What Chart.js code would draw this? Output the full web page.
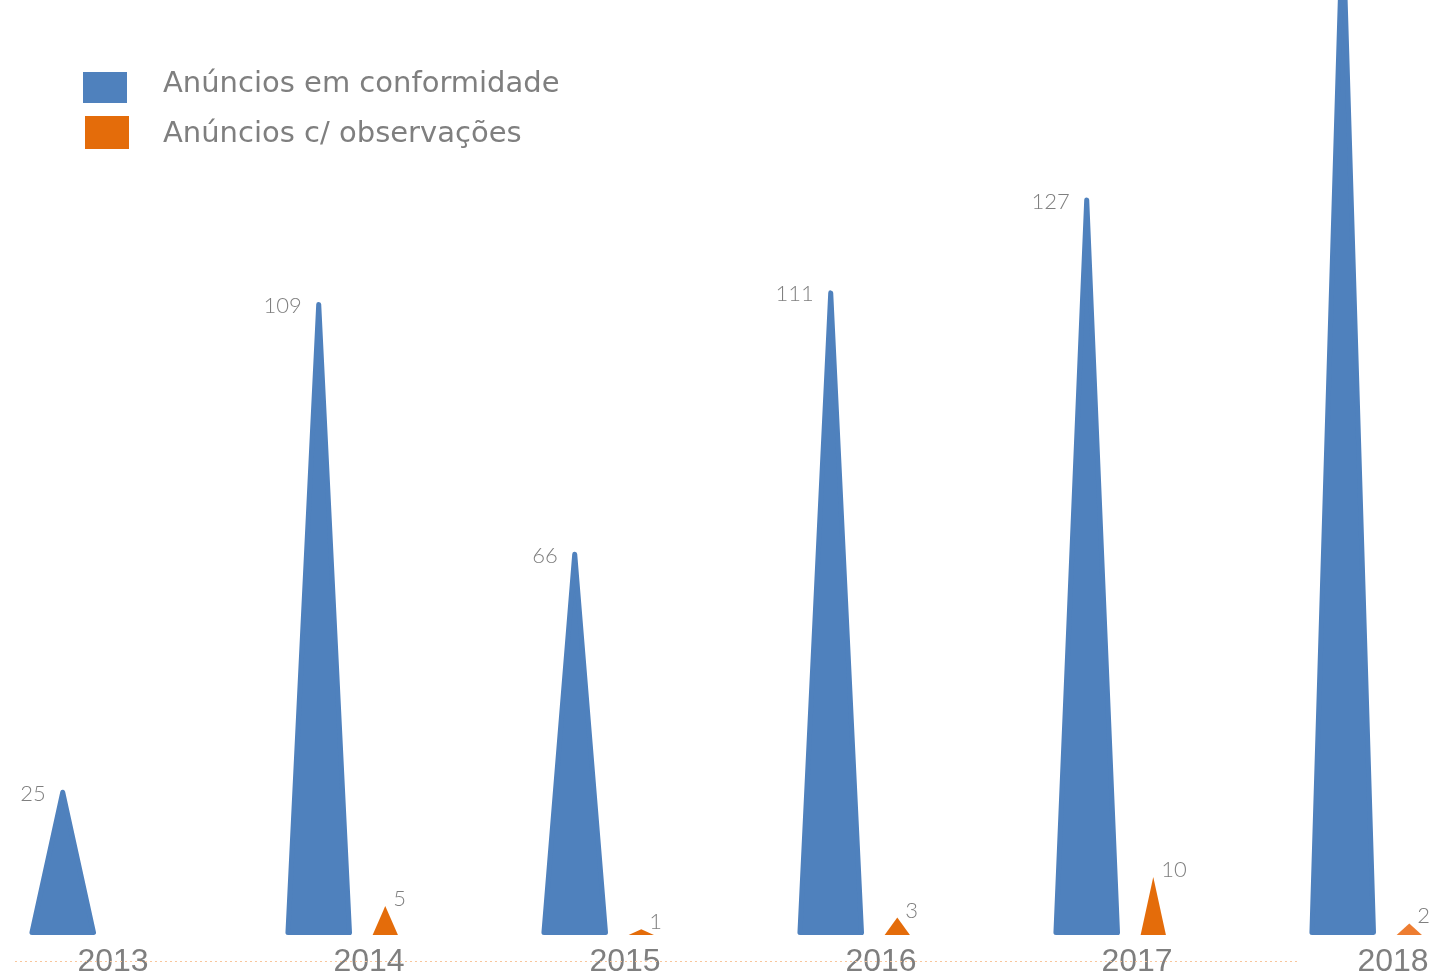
<!DOCTYPE html>
<html lang="pt">
<head>
<meta charset="utf-8">
<title>Anúncios 2013–2018</title>
<script src="https://cdn.jsdelivr.net/npm/chart.js@4.4.1/dist/chart.umd.min.js"></script>
<style>
  html, body { margin: 0; padding: 0; background: #ffffff; overflow: hidden; }
  #wrap { position: relative; width: 1448px; height: 977px; }
</style>
</head>
<body>
<div id="wrap"><canvas id="chart"></canvas></div>
<script>
// Categories and series
const anos = ['2013', '2014', '2015', '2016', '2017', '2018'];
const emConformidade = [25, 109, 66, 111, 127, 175];
const comObservacoes = [null, 5, 1, 3, 10, 2];
const nomesSeries = ['Anúncios em conformidade', 'Anúncios c/ observações'];

const AZUL = '#4F81BD';
const LARANJA = '#E46C0A';
const LARANJA_CLARO = '#ED7D31';
const CINZA = '#7F7F7F';
const FONTE_ROTULOS = "Lato, 'DejaVu Sans', sans-serif";
const FONTE_LEGENDA = "'DejaVu Sans', Lato, sans-serif";

// Each bar is painted as a cone, using the geometry Chart.js computed for it
const conePlugin = {
  id: 'cones',
  beforeDatasetDraw(chart, args) {
    const ds = chart.data.datasets[args.index];
    const ctx = chart.ctx;
    ctx.save();
    args.meta.data.forEach((el, i) => {
      if (ds.data[i] == null) return;
      const { x, y, base, width } = el.getProps(['x', 'y', 'base', 'width'], true);
      const color = el.options.backgroundColor;
      const r = ds.coneRound || 0;
      ctx.beginPath();
      ctx.moveTo(x, y + r / 2);
      ctx.lineTo(x + width / 2 - r / 2, base - r / 2);
      ctx.lineTo(x - width / 2 + r / 2, base - r / 2);
      ctx.closePath();
      ctx.fillStyle = color;
      ctx.fill();
      if (r) {
        ctx.lineJoin = 'round';
        ctx.lineWidth = r;
        ctx.strokeStyle = color;
        ctx.stroke();
      }
    });
    ctx.restore();
    return false;
  }
};

// Value labels next to each cone tip
const rotulosPlugin = {
  id: 'rotulos',
  afterDatasetsDraw(chart) {
    const ctx = chart.ctx;
    ctx.save();
    ctx.fillStyle = CINZA;
    ctx.font = '300 22px ' + FONTE_ROTULOS;
    ctx.textBaseline = 'middle';
    chart.data.datasets.forEach((ds, di) => {
      const meta = chart.getDatasetMeta(di);
      meta.data.forEach((el, i) => {
        const v = ds.data[i];
        if (v == null) return;
        const { x, y } = el.getProps(['x', 'y'], true);
        if (ds.rotuloLado === 'esquerda') {
          ctx.textAlign = 'right';
          ctx.fillText(String(v), x - 17, y + 4);
        } else {
          ctx.textAlign = 'left';
          ctx.fillText(String(v), x + 8, y - 7);
        }
      });
    });
    ctx.restore();
  }
};

// Legend in the upper-left corner
const legendaPlugin = {
  id: 'legenda',
  afterDraw(chart, args, opts) {
    const ctx = chart.ctx;
    ctx.save();
    ctx.font = '29px ' + FONTE_LEGENDA;
    ctx.textAlign = 'left';
    ctx.textBaseline = 'alphabetic';
    chart.data.datasets.forEach((ds, i) => {
      const top = opts.y + i * opts.passoCaixa;
      ctx.fillStyle = ds.corLegenda;
      ctx.fillRect(opts.x + i * 2, top, opts.caixaL, opts.caixaA + i * 2);
      ctx.fillStyle = CINZA;
      ctx.fillText(ds.label, opts.textoX, opts.linhaBase + i * opts.passoTexto);
    });
    ctx.restore();
  }
};

// Dotted guide running through the year labels
const guiaPlugin = {
  id: 'guia',
  beforeDatasetsDraw(chart, args, opts) {
    const ctx = chart.ctx;
    ctx.save();
    ctx.strokeStyle = opts.cor;
    ctx.lineWidth = 1;
    ctx.setLineDash([2, 3]);
    ctx.beginPath();
    ctx.moveTo(opts.de, opts.y + 0.5);
    ctx.lineTo(opts.ate, opts.y + 0.5);
    ctx.stroke();
    ctx.restore();
  }
};

new Chart(document.getElementById('chart'), {
  type: 'bar',
  data: {
    labels: anos,
    datasets: [
      {
        label: nomesSeries[0],
        data: emConformidade,
        backgroundColor: AZUL,
        corLegenda: AZUL,
        coneRound: 5,
        rotuloLado: 'esquerda',
        categoryPercentage: 0.52,
        barPercentage: 1.0
      },
      {
        label: nomesSeries[1],
        data: comObservacoes,
        backgroundColor: [LARANJA, LARANJA, LARANJA, LARANJA, LARANJA, LARANJA_CLARO],
        corLegenda: LARANJA,
        coneRound: 0,
        rotuloLado: 'direita',
        categoryPercentage: 0.52,
        barPercentage: 0.38
      }
    ]
  },
  options: {
    responsive: true,
    maintainAspectRatio: false,
    animation: false,
    layout: { padding: { left: 96, right: 72, top: 0, bottom: 0 } },
    plugins: {
      legend: { display: false },
      tooltip: { enabled: false },
      legenda: { x: 83, y: 72, passoCaixa: 44, caixaL: 44, caixaA: 31, textoX: 163, linhaBase: 92, passoTexto: 50 },
      guia: { y: 961, de: 15, ate: 1300, cor: '#F8C69C' }
    },
    scales: {
      x: {
        offset: false,
        grid: { display: false, drawTicks: false },
        border: { display: false },
        ticks: {
          color: CINZA,
          font: { family: "'Liberation Sans', Arial, sans-serif", size: 32 },
          padding: 8,
          labelOffset: 17,
          maxRotation: 0,
          autoSkip: false
        },
        afterFit(scale) { scale.height = 42; }
      },
      y: {
        display: false,
        min: 0,
        max: 161
      }
    }
  },
  plugins: [guiaPlugin, conePlugin, rotulosPlugin, legendaPlugin]
});
</script>
</body>
</html>
